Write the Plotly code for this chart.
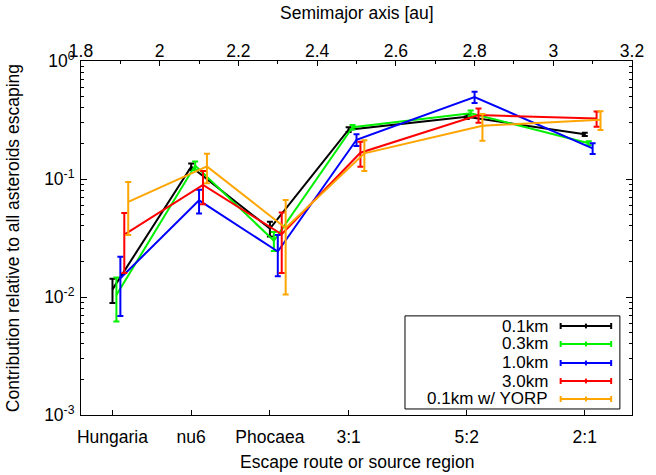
import plotly.graph_objects as go

# ---- data ----
categories = ["Hungaria", "nu6", "Phocaea", "3:1", "5:2", "2:1"]
cat_pos = [1.88, 2.08, 2.28, 2.48, 2.78, 3.08]          # semimajor-axis position of each route
series_names = ["0.1km", "0.3km", "1.0km", "3.0km", "0.1km w/ YORP"]
series_offsets = [0.0, 0.01, 0.02, 0.03, 0.04]
colors = ["#000000", "#00f000", "#0000ff", "#ff0000", "#ffa500"]

v_01 = [0.0116, 0.127, 0.038, 0.262, 0.337, 0.239]
e_01 = [0.0027, 0.008, 0.0055, 0.012, 0.015, 0.008]
v_03 = [0.0104, 0.130, 0.030, 0.275, 0.360, 0.201]
e_03 = [0.0042, 0.011, 0.0055, 0.012, 0.020, 0.008]
v_10 = [0.0144, 0.066, 0.0243, 0.215, 0.495, 0.182]
e_10 = [0.0075, 0.015, 0.0093, 0.025, 0.055, 0.019]
v_30 = [0.0338, 0.089, 0.034, 0.167, 0.348, 0.325]
e_30 = [0.0178, 0.028, 0.018, 0.040, 0.048, 0.048]
v_yorp = [0.064, 0.128, 0.0385, 0.165, 0.283, 0.318]
e_yorp = [0.0305, 0.036, 0.028, 0.048, 0.072, 0.058]

values = [v_01, v_03, v_10, v_30, v_yorp]
errors = [e_01, e_03, e_10, e_30, e_yorp]

y_tickvals = [0.001, 0.01, 0.1, 1]
y_ticktext = ["10<sup>-3</sup>", "10<sup>-2</sup>", "10<sup>-1</sup>", "10<sup>0</sup>"]
y_minor = [m * 10 ** d for d in (-3, -2, -1) for m in range(2, 10)]
top_ticks = [1.8, 2.0, 2.2, 2.4, 2.6, 2.8, 3.0, 3.2]
top_text = ["1.8", "2", "2.2", "2.4", "2.6", "2.8", "3", "3.2"]

FONT = "Liberation Sans, Arial, sans-serif"
FS = 17.5

fig = go.Figure()
for name, off, col, v, e in zip(series_names, series_offsets, colors, values, errors):
    fig.add_trace(go.Scatter(
        x=[p + off for p in cat_pos], y=v, mode="lines", name=name,
        line=dict(color=col, width=2),
        error_y=dict(type="data", array=e, visible=True, color=col, thickness=2, width=3),
        showlegend=False,
    ))

# invisible trace to anchor the top axis
fig.add_trace(go.Scatter(x=[1.8, 3.2], y=[None, None], xaxis="x2", yaxis="y",
                         mode="markers", showlegend=False, hoverinfo="skip"))

fig.update_layout(
    width=656, height=475,
    margin=dict(l=81, r=19, t=61, b=60),
    paper_bgcolor="white", plot_bgcolor="white",
    font=dict(family=FONT, size=FS, color="black"),
    xaxis=dict(
        range=[1.8, 3.2], tickmode="array", tickvals=cat_pos, ticktext=categories,
        ticks="inside", ticklen=5, tickwidth=1, tickcolor="black",
        showline=True, linecolor="black", linewidth=1, mirror=True,
        showgrid=False, zeroline=False, ticklabelstandoff=6,
    ),
    xaxis2=dict(
        range=[1.8, 3.2], overlaying="x", side="top", anchor="y",
        tickmode="array", tickvals=top_ticks, ticktext=top_text,
        ticks="inside", ticklen=5, tickwidth=1, tickcolor="black",
        minor=dict(dtick=0.1, tick0=1.8, ticks="inside", ticklen=3, tickcolor="black"),
        showline=False, showgrid=False, zeroline=False,
    ),
    yaxis=dict(
        type="log", range=[-3, 0], tickmode="array", tickvals=y_tickvals, ticktext=y_ticktext,
        ticks="inside", ticklen=6, tickwidth=1, tickcolor="black",
        minor=dict(tickmode="array", tickvals=y_minor, ticks="inside", ticklen=3, tickcolor="black"),
        showline=True, linecolor="black", linewidth=1, mirror="ticks",
        showgrid=False, zeroline=False, ticklabelstandoff=2,
    ),
)

annotations = [
    dict(text="Semimajor axis [au]", x=0.5, y=(415 - 13) / 354, xref="paper", yref="paper",
         showarrow=False, yanchor="middle"),
    dict(text="Escape route or source region", x=0.5, y=-0.133, xref="paper", yref="paper",
         showarrow=False, yanchor="middle"),
    dict(text="Contribution relative to all asteroids escaping", x=-0.123, y=0.5,
         xref="paper", yref="paper", showarrow=False, textangle=-90,
         xanchor="center", yanchor="middle"),
]

# ---- legend (gnuplot style: text right, sample on the right) ----
shapes = [dict(type="rect", xref="paper", yref="paper", x0=0.588, x1=0.978, y0=0.017, y1=0.280,
               line=dict(color="black", width=1), fillcolor="white", layer="above")]
row_y = [0.2514, 0.2006, 0.1469, 0.0960, 0.0452]
lx0, lx1, lxm = 0.8705, 0.9622, 0.9164
cap = 3 / 354
for name, col, ry in zip(series_names, colors, row_y):
    annotations.append(dict(text=name, x=0.849, y=ry, xref="paper", yref="paper",
                            xanchor="right", yanchor="middle", showarrow=False,
                            borderpad=0, font=dict(size=17)))
    shapes.append(dict(type="line", xref="paper", yref="paper", x0=lx0, x1=lx1, y0=ry, y1=ry,
                       line=dict(color=col, width=2), layer="above"))
    for cx in (lx0, lxm, lx1):
        h = cap if cx != lxm else cap * 0.8
        shapes.append(dict(type="line", xref="paper", yref="paper", x0=cx, x1=cx,
                           y0=ry - h, y1=ry + h, line=dict(color=col, width=2), layer="above"))

fig.update_layout(annotations=annotations, shapes=shapes)
fig.write_html("out.html")
